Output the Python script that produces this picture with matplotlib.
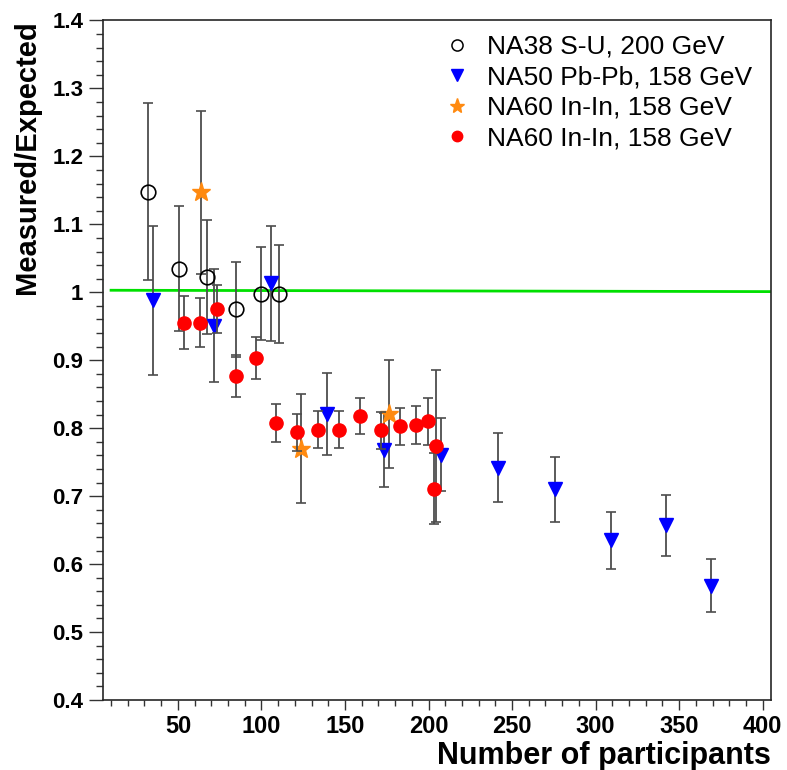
import numpy as np
import matplotlib
matplotlib.use("Agg")
import matplotlib.pyplot as plt
from matplotlib.lines import Line2D
from matplotlib.ticker import MultipleLocator, FuncFormatter

plt.rcParams["font.family"] = ["Liberation Sans", "DejaVu Sans"]

# NA38 S-U, 200 GeV (open circles)
na38_x   = [32.0, 50.6, 67.5, 84.5, 99.9, 110.3]
na38_y   = [1.148, 1.035, 1.023, 0.975, 0.998, 0.998]
na38_err = [0.130, 0.092, 0.084, 0.070, 0.068, 0.072]

# NA50 Pb-Pb, 158 GeV (blue triangles)
na50_x   = [35.2, 71.5, 105.5, 139.1, 173.2, 207.6, 241.4, 275.5, 309.1, 342.1, 369.1]
na50_y   = [0.988, 0.951, 1.013, 0.821, 0.768, 0.761, 0.742, 0.710, 0.635, 0.657, 0.568]
na50_err = [0.110, 0.083, 0.085, 0.060, 0.055, 0.054, 0.051, 0.048, 0.042, 0.045, 0.039]

# NA60 In-In, 158 GeV (orange stars)
star_x   = [63.7, 123.9, 176.4]
star_y   = [1.147, 0.770, 0.821]
star_err = [0.120, 0.080, 0.080]

# NA60 In-In, 158 GeV (red dots)
na60_x   = [53.8, 63.3, 73.7, 84.9, 96.7, 108.9, 121.5, 134.0, 146.6, 159.2,
            171.6, 183.0, 192.6, 199.4, 203.0, 204.6]
na60_y   = [0.955, 0.955, 0.975, 0.877, 0.903, 0.807, 0.794, 0.798, 0.798, 0.818,
            0.797, 0.803, 0.805, 0.810, 0.711, 0.774]
na60_err = [0.039, 0.036, 0.035, 0.031, 0.031, 0.028, 0.027, 0.027, 0.027, 0.027,
            0.027, 0.027, 0.028, 0.035, 0.052, 0.112]

# reference line
fit_x = [10.0, 405.0]
fit_y = [1.003, 1.001]

labels = ["NA38 S-U, 200 GeV", "NA50 Pb-Pb, 158 GeV",
          "NA60 In-In, 158 GeV", "NA60 In-In, 158 GeV"]

blue   = "#0000ff"
red    = "#ff0000"
orange = "#ff8a10"

fig = plt.figure(figsize=(7.87, 7.70), dpi=100)
ax  = fig.add_axes([0.1305, 0.0909, 0.8492, 0.8825])

ax.plot(fit_x, fit_y, color="#00e000", lw=2.0, zorder=1)

ebar = dict(ecolor="0.3", elinewidth=1.3, capsize=3.5, capthick=1.2, ls="none")
ax.errorbar(na38_x, na38_y, yerr=na38_err, marker="o", ms=10.5, mfc="none",
            mec="black", mew=1.2, zorder=3, **ebar)
ax.errorbar(na50_x, na50_y, yerr=na50_err, marker="v", ms=10, mfc=blue,
            mec=blue, zorder=3, **ebar)
ax.errorbar(star_x, star_y, yerr=star_err, marker="*", ms=14, mfc=orange,
            mec=orange, zorder=3, **ebar)
ax.errorbar(na60_x, na60_y, yerr=na60_err, marker="o", ms=9.5, mfc=red,
            mec=red, zorder=4, **ebar)

ax.set_xlim(5, 405)
ax.set_ylim(0.4, 1.4)

ax.xaxis.set_major_locator(MultipleLocator(50))
ax.xaxis.set_minor_locator(MultipleLocator(10))
ax.yaxis.set_major_locator(MultipleLocator(0.1))
ax.yaxis.set_minor_locator(MultipleLocator(0.02))
ax.yaxis.set_major_formatter(FuncFormatter(lambda v, p: f"{v:g}"))
ax.xaxis.set_major_formatter(FuncFormatter(lambda v, p: f"{v:g}"))

ax.tick_params(axis="y", which="major", direction="out", length=10, width=1,
               color="0.2", labelsize=16, pad=4)
ax.tick_params(axis="y", which="minor", direction="out", length=5, width=1, color="0.2")
ax.tick_params(axis="x", which="major", direction="out", length=7, width=1,
               color="0.2", labelsize=17, pad=4)
ax.tick_params(axis="x", which="minor", direction="out", length=4.3, width=1, color="0.2")
for lab in ax.get_xticklabels() + ax.get_yticklabels():
    lab.set_fontweight("bold")

for spine in ax.spines.values():
    spine.set_linewidth(1.2)
    spine.set_color("0.15")

ax.set_xlabel("Number of participants", fontsize=22, fontweight="bold",
              loc="right", labelpad=2)
ax.set_ylabel("Measured/Expected", fontsize=21, fontweight="bold",
              loc="top", labelpad=8)

handles = [
    Line2D([], [], ls="none", marker="o", ms=8, mfc="none", mec="black", mew=1.1),
    Line2D([], [], ls="none", marker="v", ms=8, mfc=blue, mec=blue),
    Line2D([], [], ls="none", marker="*", ms=11, mfc=orange, mec=orange),
    Line2D([], [], ls="none", marker="o", ms=7.5, mfc=red, mec=red),
]
ax.legend(handles, labels, loc="upper left",
          bbox_to_anchor=(0.511, 0.979), frameon=False, fontsize=19,
          handlelength=1.0, handletextpad=0.62, labelspacing=0.25,
          borderpad=0, borderaxespad=0)

fig.savefig("out.png", dpi=100)
